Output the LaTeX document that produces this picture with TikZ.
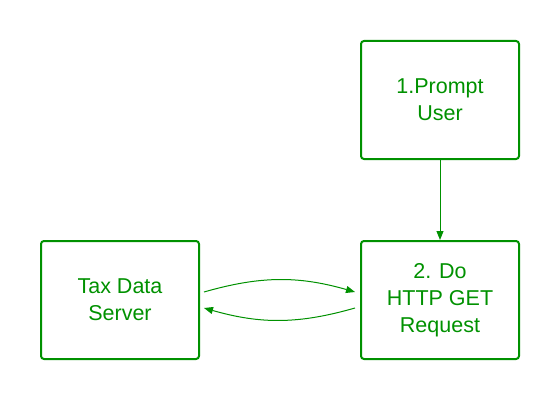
\documentclass[tikz,border=0pt]{standalone}
\usepackage{fontspec}
\setmainfont{Liberation Sans}
\usetikzlibrary{arrows.meta}
\definecolor{flowgreen}{RGB}{0,145,0}

\begin{document}
\begin{tikzpicture}[x=1pt,y=1pt,
  box/.style={draw=flowgreen, line width=2pt, rounded corners=3pt, minimum width=158pt, minimum height=118pt, align=center, text=flowgreen, font=\fontsize{21.5}{27}\selectfont},
  link/.style={draw=flowgreen, line width=1pt, -{Triangle[length=9pt,width=7pt]}}]
\useasboundingbox (0,0) rectangle (560,400);
\node[box] (prompt) at (440,300) {1.Prompt\\User};
\node[box] (request) at (440,100) {2. Do\\HTTP GET\\Request};
\node[box] (server) at (120,100) {Tax Data\\Server};
\draw[link] (prompt) -- (request);
\draw[link] ([xshift=4pt,yshift=8pt]server.east) to[bend left=16] ([xshift=-5pt,yshift=8pt]request.west);
\draw[link] ([xshift=-5pt,yshift=-8pt]request.west) to[bend left=16] ([xshift=4pt,yshift=-8pt]server.east);
\end{tikzpicture}
\end{document}
